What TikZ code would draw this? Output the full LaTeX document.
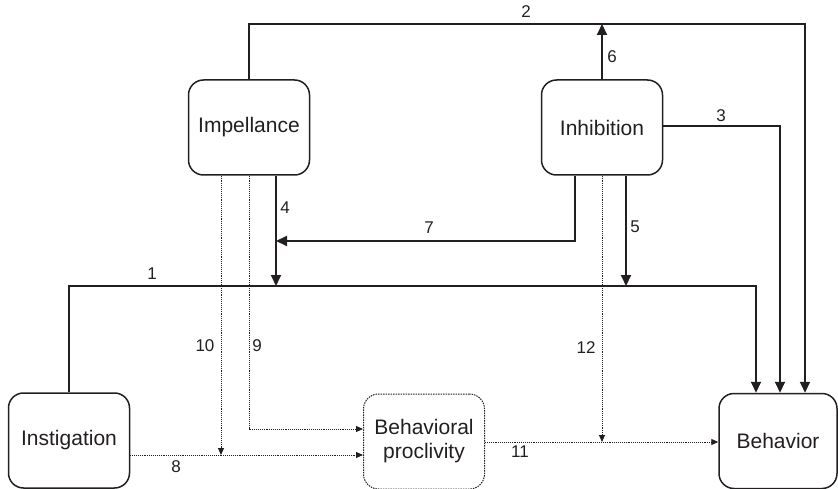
\documentclass[tikz,border=0pt]{standalone}
\usepackage{fontspec}
\setmainfont{Liberation Sans}
\usetikzlibrary{arrows.meta}
\definecolor{ink}{HTML}{231F20}
\begin{document}
\begin{tikzpicture}[x=1pt,y=-1pt,
  box/.style={draw=ink,line width=1.5pt,rounded corners=15pt,minimum width=121pt,minimum height=95pt,inner sep=0pt,align=center,font=\fontsize{21}{24}\selectfont,text=ink},
  dbox/.style={box,densely dotted,line width=1pt},
  solidarrow/.style={draw=ink,line width=2pt,-{Triangle[length=11pt,width=10pt]}},
  dotarrow/.style={draw=ink,line width=0.9pt,densely dotted,-{Triangle[length=7pt,width=6pt]}},
  lab/.style={font=\fontsize{17}{19}\selectfont,text=ink,inner sep=0pt}]
\useasboundingbox (0,0) rectangle (838,489);
\node[box] (impel) at (249,127.5) {Impellance};
\node[box] (inhib) at (602,127.5) {Inhibition};
\node[box] (instig) at (69,440.5) {Instigation};
\node[dbox] (bp) at (424,441.5) {Behavioral\\proclivity};
\node[box,minimum width=118pt] (behav) at (778,441) {Behavior};
\coordinate (y1) at (0,286);
\coordinate (y2) at (0,24);
\coordinate (y3) at (0,126);
\coordinate (y7) at (0,241);
\coordinate (y8) at (0,455);
\coordinate (y9) at (0,429);
\coordinate (y11) at (0,442);
\coordinate (p4) at ([xshift=27pt]impel.south);
\coordinate (p10) at ([xshift=-28pt]impel.south);
\coordinate (p7) at ([xshift=-27pt]inhib.south);
\coordinate (p5) at ([xshift=24pt]inhib.south);
\coordinate (b1) at ([xshift=-22pt]behav.north);
\coordinate (b3) at ([xshift=2pt]behav.north);
\coordinate (b2) at ([xshift=27pt]behav.north);
% solid connectors
\draw[solidarrow] (instig.north) -- (instig.north |- y1) -- (b1 |- y1) -- (b1);
\draw[solidarrow] (impel.north) -- (impel.north |- y2) -- (b2 |- y2) -- (b2);
\draw[solidarrow] (inhib.east |- y3) -- (b3 |- y3) -- (b3);
\draw[solidarrow] (inhib.north) -- (inhib.north |- y2);
\draw[solidarrow] (p4) -- (p4 |- y1);
\draw[solidarrow] (p7) -- (p7 |- y7) -- (p4 |- y7);
\draw[solidarrow] (p5) -- (p5 |- y1);
% dotted connectors
\draw[dotarrow] (p10) -- (p10 |- y8);
\draw[dotarrow] (impel.south) -- (impel.south |- y9) -- (bp.west |- y9);
\draw[dotarrow] (instig.east |- y8) -- (bp.west |- y8);
\draw[dotarrow] (inhib.south) -- (inhib.south |- y11);
\draw[dotarrow] (bp.east |- y11) -- (behav.west |- y11);
% labels
\node[lab] (l1) at (152,274) {1};
\node[lab] (l2) at (526,12) {2};
\node[lab] (l3) at (721,116) {3};
\node[lab] (l4) at (285,208) {4};
\node[lab] (l5) at (635,227) {5};
\node[lab] (l6) at (612,57) {6};
\node[lab] (l7) at (429,228) {7};
\node[lab] (l8) at (176,467) {8};
\node[lab] (l9) at (257,346) {9};
\node[lab] (l10) at (205,346) {10};
\node[lab] (l11) at (520,452) {11};
\node[lab] (l12) at (586,348) {12};
\end{tikzpicture}
\end{document}
